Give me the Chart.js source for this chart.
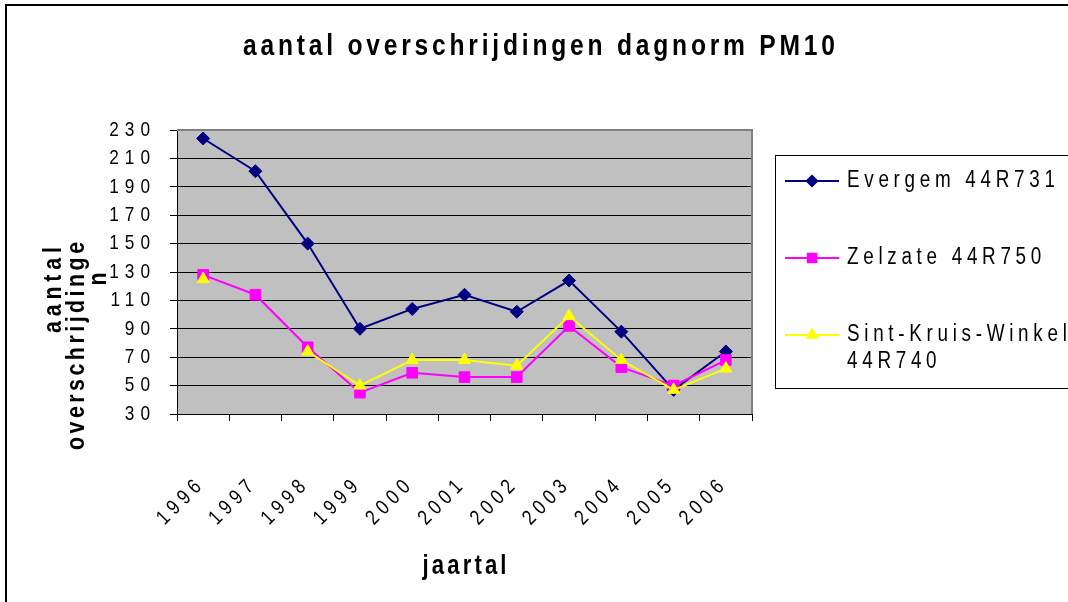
<!DOCTYPE html>
<html>
<head>
<meta charset="utf-8">
<title>aantal overschrijdingen dagnorm PM10</title>
<script src="https://cdn.jsdelivr.net/npm/chart.js@4/dist/chart.umd.min.js"></script>
<style>
  html, body { margin: 0; padding: 0; background: #fff; }
  #chart { display: block; }
</style>
</head>
<body>
<canvas id="chart" width="1068" height="602"></canvas>
<script>
const years = ['1996', '1997', '1998', '1999', '2000', '2001', '2002', '2003', '2004', '2005', '2006'];
const evergem = [224, 201, 150, 90, 104, 114, 102, 124, 88, 47, 74];
const zelzate = [128, 114, 77, 45, 59, 56, 56, 92, 63, 50, 68];
const sintKruisWinkel = [125, null, 74, 50, 68, 68, 64, 99, 68, 47, 62];
const yMin = 30;
const yMax = 230;
const yStep = 20;

const chartTitle = 'aantal overschrijdingen dagnorm PM10';
const xTitle = 'jaartal';
const yTitleLines = ['aantal', 'overschrijdinge', 'n'];

const FONT = "'Liberation Sans', Arial, sans-serif";
// no Arial Narrow here, so squeeze the normal face horizontally
const NARROW = 0.82;

Chart.defaults.color = '#000';
Chart.defaults.font.family = FONT;

function setFont(ctx, size, bold) {
    ctx.font = (bold ? 'bold ' : '') + size + 'px ' + FONT;
}

// screen width of a narrow text with extra spacing between letters
function textWidth(ctx, text, size, bold, spacing) {
    ctx.save();
    setFont(ctx, size, bold);
    ctx.letterSpacing = '0px';
    const w = ctx.measureText(text).width * NARROW + spacing * (text.length - 1);
    ctx.restore();
    return w;
}

function drawText(ctx, text, x, y, o) {
    ctx.save();
    setFont(ctx, o.size, o.bold);
    let spacing = o.spacing || 0;
    if (o.width) {
        ctx.letterSpacing = '0px';
        spacing = (o.width - ctx.measureText(text).width * NARROW) / (text.length - 1);
    }
    ctx.translate(x, y);
    if (o.rotation) ctx.rotate(o.rotation);
    ctx.scale(NARROW, 1);
    const ls = spacing / NARROW;
    ctx.letterSpacing = ls + 'px';
    ctx.textAlign = o.align || 'left';
    ctx.textBaseline = o.baseline || 'middle';
    ctx.fillStyle = o.color || '#000';
    // trailing letter spacing is counted in the width, correct for it
    let shift = 0;
    if (ctx.textAlign === 'center') shift = ls / 2;
    if (ctx.textAlign === 'right') shift = ls;
    ctx.fillText(text, shift, 0);
    ctx.restore();
}

const decor = {
    id: 'decor',
    beforeDraw(chart) {
        const ctx = chart.ctx;
        const a = chart.chartArea;
        ctx.save();
        ctx.fillStyle = '#c0c0c0';
        ctx.fillRect(a.left, a.top, a.right - a.left, a.bottom - a.top);
        // outer frame, only top and left show in the picture
        ctx.strokeStyle = '#000';
        ctx.lineWidth = 2;
        ctx.beginPath();
        ctx.moveTo(6, 602);
        ctx.lineTo(6, 5);
        ctx.lineTo(1068, 5);
        ctx.stroke();
        ctx.restore();
    },
    beforeDatasetsDraw(chart) {
        const ctx = chart.ctx;
        const a = chart.chartArea;
        ctx.save();
        ctx.strokeStyle = '#808080';
        ctx.lineWidth = 2;
        ctx.beginPath();
        ctx.moveTo(a.left, a.top);
        ctx.lineTo(a.right, a.top);
        ctx.lineTo(a.right, a.bottom);
        ctx.stroke();
        ctx.restore();
    },
    afterDraw(chart) {
        const ctx = chart.ctx;
        const a = chart.chartArea;
        const xScale = chart.scales.x;
        const yScale = chart.scales.y;

        // tick labels, placed from the scales
        yScale.ticks.forEach((t, i) => {
            drawText(ctx, String(t.value), a.left - 27, yScale.getPixelForTick(i),
                { size: 21, spacing: 6, align: 'right' });
        });
        xScale.ticks.forEach((t, i) => {
            drawText(ctx, xScale.getLabelForValue(t.value), xScale.getPixelForTick(i) - 5, 484,
                { size: 21, spacing: 5, align: 'right', rotation: -Math.PI / 4 });
        });

        drawText(ctx, chartTitle, 539, 47, { size: 30, bold: true, width: 592, align: 'center' });
        drawText(ctx, xTitle, (a.left + a.right) / 2, 567, { size: 27, bold: true, width: 84, align: 'center' });

        // y axis title, wrapped the way excel did it
        const yTitlePos = [[61, 290, 86], [84, 346, 208], [106, 279, 0]];
        yTitleLines.forEach((line, i) => {
            const p = yTitlePos[i];
            drawText(ctx, line, p[0], p[1], {
                size: 26, bold: true, width: p[2] || undefined, align: 'center',
                baseline: 'alphabetic', rotation: -Math.PI / 2
            });
        });

        // legend
        ctx.save();
        ctx.strokeStyle = '#000';
        ctx.lineWidth = 1;
        ctx.strokeRect(775.5, 155.5, 320, 233);
        chart.data.datasets.forEach((ds, i) => {
            const y = 181 + i * 77;
            ctx.strokeStyle = ds.borderColor;
            ctx.fillStyle = ds.backgroundColor;
            ctx.lineWidth = 2;
            ctx.beginPath();
            ctx.moveTo(785, y);
            ctx.lineTo(839, y);
            ctx.stroke();
            Chart.helpers.drawPoint(ctx, {
                pointStyle: ds.pointStyle, radius: ds.pointRadius * 0.8, rotation: 0, borderWidth: 1
            }, 812, y);

            // wrap the label when it does not fit in the box
            const lines = [];
            let current = '';
            ds.label.split(' ').forEach(word => {
                const test = current ? current + ' ' + word : word;
                if (current && textWidth(ctx, test, 23, false, 4.7) > 216) {
                    lines.push(current);
                    current = word;
                } else {
                    current = test;
                }
            });
            lines.push(current);
            lines.forEach((line, j) => drawText(ctx, line, 847, y + j * 27, { size: 23, spacing: 4.7 }));
        });
        ctx.restore();
    }
};

const ctx = document.getElementById('chart').getContext('2d');
const chart = new Chart(ctx, {
    type: 'line',
    data: {
        labels: years,
        datasets: [
            {
                label: 'Evergem 44R731', data: evergem,
                borderColor: '#000080', backgroundColor: '#000080',
                pointStyle: 'rectRot', pointRadius: 6.5, borderWidth: 2, pointBorderWidth: 1,
                tension: 0, order: 2
            },
            {
                label: 'Zelzate 44R750', data: zelzate,
                borderColor: '#ff00ff', backgroundColor: '#ff00ff',
                pointStyle: 'rect', pointRadius: 7.5, borderWidth: 2, pointBorderWidth: 1,
                tension: 0, order: 1
            },
            {
                label: 'Sint-Kruis-Winkel 44R740', data: sintKruisWinkel,
                borderColor: '#ffff00', backgroundColor: '#ffff00',
                pointStyle: 'triangle', pointRadius: 7, borderWidth: 2, pointBorderWidth: 1,
                tension: 0, order: 0, spanGaps: false
            }
        ]
    },
    options: {
        responsive: false,
        animation: false,
        layout: {
            padding: { left: 0, top: 130, right: 316, bottom: 0 }
        },
        scales: {
            x: {
                offset: true,
                grid: {
                    display: true, drawOnChartArea: false, offset: true,
                    tickLength: 7, color: '#000', lineWidth: 1
                },
                border: { color: '#000', width: 1 },
                // labels are drawn by the decor plugin in a narrow face
                ticks: {
                    autoSkip: false, minRotation: 45, maxRotation: 45,
                    color: 'rgba(0,0,0,0)', font: { size: 20 }
                },
                afterFit(scale) {
                    scale.height = 188;
                }
            },
            y: {
                min: yMin,
                max: yMax,
                grid: { color: '#000', lineWidth: 1, tickLength: 7 },
                border: { color: '#000', width: 1 },
                ticks: {
                    stepSize: yStep, color: 'rgba(0,0,0,0)', font: { size: 20 }
                },
                afterFit(scale) {
                    scale.width = 177;
                }
            }
        },
        plugins: {
            legend: { display: false },
            title: { display: false },
            tooltip: { enabled: false }
        }
    },
    plugins: [decor]
});
</script>
</body>
</html>
